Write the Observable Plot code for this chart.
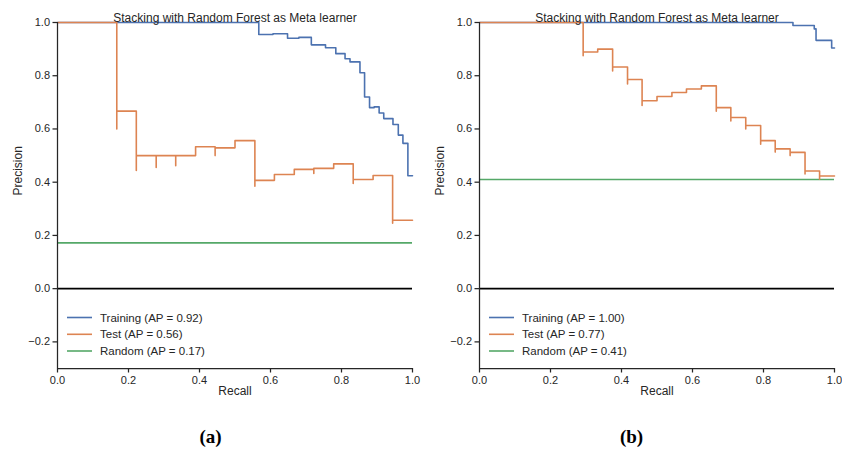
<!DOCTYPE html>
<html><head><meta charset="utf-8">
<script src="https://cdn.jsdelivr.net/npm/d3@7"></script>
<script src="https://cdn.jsdelivr.net/npm/@observablehq/plot@0.6"></script>
<style>
body{margin:0;background:#fff;width:842px;height:461px;position:relative;overflow:hidden;font-family:"Liberation Sans",Arial,sans-serif;}
.panel{position:absolute;top:0;width:421px;height:400px;}
.cap{position:absolute;top:427px;width:421px;text-align:center;font-family:"Liberation Serif","DejaVu Serif",serif;font-weight:bold;font-size:19px;line-height:20px;color:#000;}
</style></head><body>
<div id="pa" class="panel" style="left:0"></div>
<div id="pb" class="panel" style="left:421px"></div>
<div id="ca" class="cap" style="left:0"></div>
<div id="cb" class="cap" style="left:421px"></div>
<script>
// ---- data ----
const title = "Stacking with Random Forest as Meta learner";
const captions = ["(a)", "(b)"];
const xTicks = [0, 0.2, 0.4, 0.6, 0.8, 1.0];
const yTicks = [-0.2, 0, 0.2, 0.4, 0.6, 0.8, 1.0];

// Panel (a)
const trainA_recall    = [0, 0.567, 0.607, 0.648, 0.680, 0.715, 0.755, 0.784, 0.810, 0.824, 0.852, 0.865, 0.879, 0.892, 0.906, 0.919, 0.945, 0.960, 0.973, 0.987, 1.0];
const trainA_precision = [1.0, 0.955, 0.958, 0.941, 0.944, 0.916, 0.905, 0.883, 0.864, 0.852, 0.811, 0.720, 0.680, 0.683, 0.660, 0.639, 0.617, 0.577, 0.546, 0.424, 0.424];
const testA_recall     = [0, 0.167, 0.167, 0.222, 0.222, 0.278, 0.278, 0.333, 0.333, 0.389, 0.444, 0.444, 0.5, 0.556, 0.556, 0.611, 0.667, 0.722, 0.722, 0.778, 0.833, 0.833, 0.889, 0.944, 0.944, 1.0];
const testA_precision  = [1.0, 0.600, 0.667, 0.444, 0.500, 0.455, 0.500, 0.462, 0.500, 0.533, 0.500, 0.529, 0.556, 0.385, 0.407, 0.429, 0.448, 0.433, 0.452, 0.469, 0.395, 0.410, 0.425, 0.246, 0.257, 0.257];
const randomA = 0.172;
const legendA = ["Training (AP = 0.92)", "Test (AP = 0.56)", "Random (AP = 0.17)"];

// Panel (b)
const trainB_recall    = [0, 0.883, 0.943, 0.948, 0.992, 1.0];
const trainB_precision = [1.0, 0.989, 0.976, 0.933, 0.904, 0.904];
const testB_recall     = [0, 0.292, 0.292, 0.333, 0.375, 0.375, 0.417, 0.417, 0.458, 0.458, 0.5, 0.542, 0.583, 0.625, 0.667, 0.667, 0.708, 0.708, 0.75, 0.75, 0.792, 0.792, 0.833, 0.833, 0.875, 0.875, 0.917, 0.917, 0.958, 0.958, 1.0];
const testB_precision  = [1.0, 0.875, 0.889, 0.900, 0.818, 0.833, 0.769, 0.786, 0.688, 0.706, 0.722, 0.737, 0.750, 0.762, 0.667, 0.680, 0.630, 0.643, 0.600, 0.613, 0.543, 0.556, 0.513, 0.525, 0.500, 0.512, 0.431, 0.442, 0.411, 0.423, 0.423];
const randomB = 0.41;
const legendB = ["Training (AP = 1.00)", "Test (AP = 0.77)", "Random (AP = 0.41)"];

const colors = ["#4c72b0", "#dd8452", "#55a868"];
const ink = "#262626";

function panel(el, trR, trP, teR, teP, rnd, legend, ml, mr) {
  const train = trR.map((r, i) => ({r, p: trP[i]}));
  const test = teR.map((r, i) => ({r, p: teP[i]}));
  const fmt = d3.format(".1f");
  const plot = Plot.plot({
    width: 421, height: 400,
    marginLeft: ml, marginRight: mr, marginTop: 22, marginBottom: 32,
    style: {fontFamily: "'Liberation Sans', Arial, sans-serif", fontSize: "11px", color: ink, background: "white", overflow: "visible"},
    x: {domain: [0, 1]},
    y: {domain: [-0.3, 1.0]},
    marks: [
      Plot.ruleY([rnd], {stroke: colors[2], strokeWidth: 1.6}),
      Plot.ruleY([0], {stroke: "black", strokeWidth: 1.7}),
      Plot.line(train, {x: "r", y: "p", curve: "step-after", stroke: colors[0], strokeWidth: 1.6}),
      Plot.line(test, {x: "r", y: "p", curve: "step-after", stroke: colors[1], strokeWidth: 1.6}),
      Plot.ruleX([0], {stroke: ink, strokeWidth: 1.25}),
      Plot.ruleY([-0.3], {stroke: ink, strokeWidth: 1.25}),
      Plot.axisX({ticks: xTicks, tickFormat: fmt, tickSize: 4.5, tickPadding: 3, strokeWidth: 1.25, label: null, fontSize: 11}),
      Plot.axisY({ticks: yTicks, tickFormat: fmt, tickSize: 4.5, tickPadding: 3, strokeWidth: 1.25, label: null, fontSize: 11}),
      Plot.text([title], {frameAnchor: "top", dy: -9, fontSize: 12, fill: ink}),
      Plot.text(["Recall"], {frameAnchor: "bottom", dy: 26, fontSize: 12, fill: ink}),
      Plot.text(["Precision"], {frameAnchor: "left", dx: -39, rotate: -90, fontSize: 12, fill: ink})
    ]
  });
  const svg = d3.select(plot);
  const g = svg.append("g").attr("class", "legend").attr("text-anchor", "start");
  const rows = [317.5, 334.3, 351];
  legend.forEach((t, i) => {
    g.append("line").attr("x1", ml + 10).attr("x2", ml + 35).attr("y1", rows[i]).attr("y2", rows[i])
      .attr("stroke", colors[i]).attr("stroke-width", 1.6);
    g.append("text").attr("x", ml + 43).attr("y", rows[i]).attr("dy", "0.35em")
      .attr("text-anchor", "start").style("text-anchor", "start")
      .attr("fill", ink).attr("font-size", 11.5).text(t);
  });
  document.getElementById(el).append(plot);
}

panel("pa", trainA_recall, trainA_precision, testA_recall, testA_precision, randomA, legendA, 57, 9);
panel("pb", trainB_recall, trainB_precision, testB_recall, testB_precision, randomB, legendB, 58, 8);
document.getElementById("ca").textContent = captions[0];
document.getElementById("cb").textContent = captions[1];
</script></body></html>
